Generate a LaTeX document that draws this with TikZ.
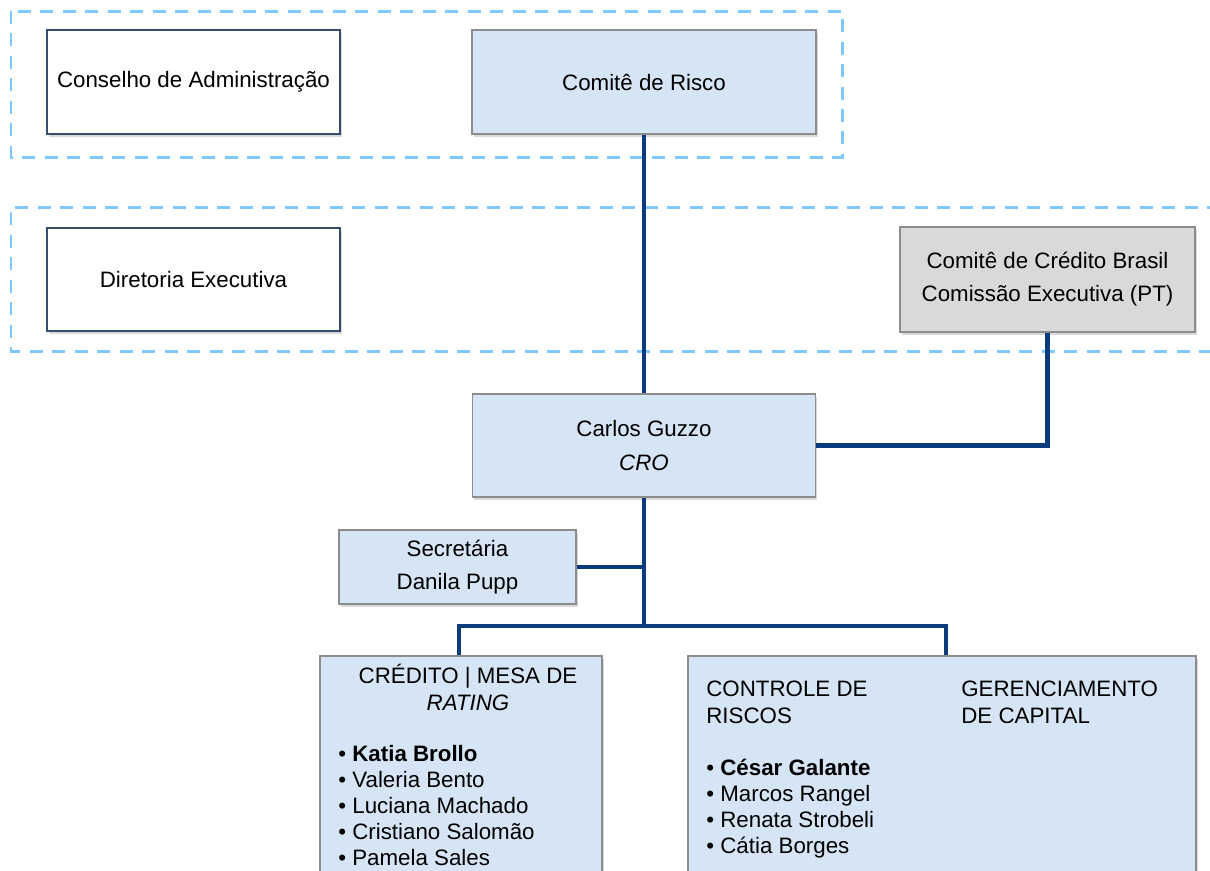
\documentclass[tikz,border=0pt]{standalone}
\usepackage{fontspec}
\setmainfont{Liberation Sans}
\usetikzlibrary{positioning,shadows}
\definecolor{azulcaixa}{RGB}{214,229,245}
\definecolor{cinzacaixa}{RGB}{217,217,217}
\definecolor{bordacinza}{RGB}{140,140,140}
\definecolor{bordaescura}{RGB}{55,75,110}
\definecolor{azulligacao}{RGB}{10,60,125}
\definecolor{azultraco}{RGB}{125,200,255}
% pixel of the sketch -> length
\newcommand*{\px}[1]{#1*0.02cm}
% block of lines: baselineskip, column, lines
\newcommand*{\bloco}[3]{{\fontsize{12.7}{#1}\selectfont
  \begin{tabular}[t]{@{}#2@{}}#3\end{tabular}}}

\begin{document}
\begin{tikzpicture}[x=0.02cm,y=-0.02cm,
  caixa/.style={rectangle,inner sep=0pt,align=center,
    font=\fontsize{12.7}{18.8}\selectfont,
    drop shadow={shadow xshift=1pt,shadow yshift=-1.5pt,opacity=.3}},
  caixaazul/.style={caixa,draw=bordacinza,line width=0.8pt,fill=azulcaixa},
  caixacinza/.style={caixa,draw=bordacinza,line width=0.8pt,fill=cinzacaixa},
  caixabranca/.style={caixa,draw=bordaescura,line width=1.5pt,fill=white},
  texto/.style={inner sep=0pt,anchor=base west},
  ligacao/.style={draw=azulligacao,line width=2.3pt},
  tracejado/.style={draw=azultraco,line width=1.7pt,dash pattern=on 7.4pt off 5.4pt}]
\useasboundingbox (0,0) rectangle (1210,870);
\clip (0,0) rectangle (1210,870);
% Dashed areas: board level and executive level
\draw[tracejado] (11,11) rectangle (842,157);
\draw[tracejado] (1220,207) -- (11,207) -- (11,351) -- (1220,351);
% Boxes of the two upper levels
\node[caixabranca,minimum width=\px{293},minimum height=\px{104}] (conselho) at (193.5,82) {Conselho de Administração};
\node[caixaazul,minimum width=\px{344},minimum height=\px{104}] (risco) at (644,82) {Comitê de Risco};
\node[caixabranca,minimum width=\px{293},minimum height=\px{103}] (diretoria) at (193.5,279.5) {Diretoria Executiva};
\node[caixacinza,minimum width=\px{295},minimum height=\px{105}] (comcredito) at (1047.5,279.5) {Comitê de Crédito Brasil\\Comissão Executiva (PT)};
% CRO and secretary
\node[caixaazul,minimum width=\px{343},minimum height=\px{103}] (cro) at (644,445.5) {Carlos Guzzo\\\textit{CRO}};
\node[caixaazul,minimum width=\px{237},minimum height=\px{74}] (secretaria) at (457.5,567) {Secretária\\Danila Pupp};
% Lower boxes run past the bottom edge
\node[caixaazul,minimum width=\px{282},minimum height=\px{244}] (credito) at (461,778) {};
\node[caixaazul,minimum width=\px{508},minimum height=\px{244}] (controle) at (942,778) {};
% Texts of the lower boxes
\node[texto,anchor=base] (credtit) at (468,683) {\bloco{15.4pt}{c}{CRÉDITO | MESA DE\\\textit{RATING}}};
\node[texto] (credlista) at (338,761) {\bloco{14.8pt}{l}{• \textbf{Katia Brollo}\\• Valeria Bento\\• Luciana Machado\\• Cristiano Salomão\\• Pamela Sales}};
\node[texto] (contit) at (706,696) {\bloco{15.9pt}{l}{CONTROLE DE\\RISCOS}};
\node[texto] (gertit) at (961,696) {\bloco{15.9pt}{l}{GERENCIAMENTO\\DE CAPITAL}};
\node[texto] (conlista) at (706,775) {\bloco{14.8pt}{l}{• \textbf{César Galante}\\• Marcos Rangel\\• Renata Strobeli\\• Cátia Borges}};
% Connectors
\coordinate (barra) at (644,626);
\draw[ligacao] (risco.south) -- (risco.south |- cro.north);
\draw[ligacao] (comcredito.south) |- (cro.east);
\draw[ligacao] (cro.south) -- (barra);
\draw[ligacao] (secretaria.east) -- (secretaria.east -| barra);
\draw[ligacao] ([xshift=-1.1pt]credito.north) |- (barra) -| ([xshift=2.3pt]controle.north);
\end{tikzpicture}
\end{document}
